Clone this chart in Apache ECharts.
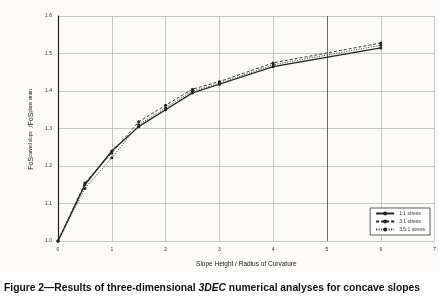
<!DOCTYPE html>
<html>
<head>
<meta charset="utf-8">
<script src="https://cdn.jsdelivr.net/npm/echarts@6/dist/echarts.min.js"></script>
<style>
  html, body { margin: 0; padding: 0; background: #fff; }
  #chart { width: 439px; height: 308px; }
</style>
</head>
<body>
<div id="chart"></div>
<script>
// slope height / radius of curvature
const xValues = [0, 0.5, 1, 1.5, 2, 2.5, 3, 4, 6];
// FoS ratio for each stress ratio
const stress11 = [1.0, 1.15, 1.24, 1.305, 1.35, 1.395, 1.418, 1.465, 1.515];
const stress31 = [1.0, 1.155, 1.235, 1.318, 1.362, 1.405, 1.425, 1.475, 1.528];
const stress351 = [1.0, 1.14, 1.222, 1.31, 1.355, 1.4, 1.42, 1.47, 1.522];
const seriesNames = ["1:1 stress", "3:1 stress", "3.5:1 stress"];

const pairs = (ys) => xValues.map((x, i) => [x, ys[i]]);

let myChart = echarts.init(document.getElementById("chart"));

const lineSeries = (name, data, type, width) => ({
  name: name,
  type: "line",
  data: pairs(data),
  symbol: "circle",
  symbolSize: 3,
  color: "#222",
  lineStyle: { color: "#222", width: width, type: type },
  itemStyle: { color: "#222" },
  z: 5,
});

myChart.setOption({
  backgroundColor: "#fff",
  animation: false,
  graphic: [
    { // light panel behind the figure
      type: "rect",
      left: 0, top: 0, z: -10,
      shape: { width: 439, height: 272 },
      style: { fill: "#fbfaf7" },
    },
    {
      type: "text",
      left: 4, top: 283,
      style: {
        text: "{b|Figure 2\u2014Results of three-dimensional }{i|3DEC}{b| numerical analyses for concave slopes}",
        rich: {
          b: { fontFamily: "Liberation Sans", fontWeight: "bold", fontSize: 10.3, fill: "#111" },
          i: { fontFamily: "Liberation Sans", fontWeight: "bold", fontStyle: "italic", fontSize: 10.3, fill: "#111" },
        },
      },
    },
  ],
  grid: { left: 58, right: 4, top: 16, bottom: 67 },
  legend: {
    data: seriesNames,
    orient: "vertical",
    right: 9,
    top: 208,
    backgroundColor: "#fff",
    borderColor: "#333",
    borderWidth: 0.8,
    padding: [3, 5, 3, 5],
    itemWidth: 18,
    itemHeight: 5,
    itemGap: 3,
    textStyle: { fontSize: 5, color: "#333", fontFamily: "Liberation Sans" },
  },
  xAxis: {
    type: "value",
    min: 0, max: 7, interval: 1,
    name: "Slope Height / Radius of Curvature",
    nameLocation: "middle",
    nameGap: 20,
    nameTextStyle: { fontSize: 6.5, color: "#222", fontFamily: "Liberation Sans" },
    axisLine: { show: false },
    axisTick: { show: false },
    axisLabel: { fontSize: 5, color: "#333", margin: 6 },
    splitLine: {
      show: true,
      lineStyle: {
        color: ["#bbb", "#bbb", "#bbb", "#bbb", "#bbb", "#444", "#bbb", "#bbb"],
        width: 0.8,
      },
    },
  },
  yAxis: {
    type: "value",
    min: 1.0, max: 1.6, interval: 0.1,
    name: "{a|FoS}{s|curved slope}{a| /FoS}{s|plane strain}",
    nameLocation: "middle",
    nameGap: 22,
    nameRotate: 90,
    nameTextStyle: {
      rich: {
        a: { fontSize: 7, color: "#222", fontFamily: "Liberation Sans", verticalAlign: "bottom", lineHeight: 10 },
        s: { fontSize: 4.5, color: "#222", fontFamily: "Liberation Sans", verticalAlign: "top", lineHeight: 10, padding: [4, 2, 0, 0] },
      },
    },
    axisLine: { show: true, lineStyle: { color: "#222", width: 1.2 } },
    axisTick: { show: false },
    axisLabel: { fontSize: 5, color: "#333", margin: 6, formatter: (v) => v.toFixed(1) },
    splitLine: { show: true, lineStyle: { color: "#bbb", width: 0.8 } },
  },
  series: [
    lineSeries(seriesNames[0], stress11, "solid", 1.3),
    lineSeries(seriesNames[1], stress31, [3, 2], 0.9),
    lineSeries(seriesNames[2], stress351, [1, 1.5], 0.9),
  ],
});
</script>
</body>
</html>
